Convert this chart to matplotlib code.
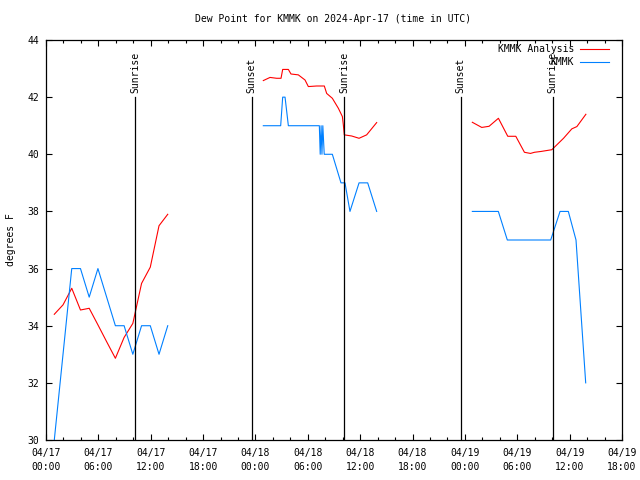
import numpy as np
import matplotlib
matplotlib.use("Agg")
import matplotlib.pyplot as plt

title = "Dew Point for KMMK on 2024-Apr-17 (time in UTC)"
ylabel = "degrees F"

# hours since 2024-04-17 00:00 UTC; NaN separates data gaps
analysis_hours = [0.95, 1.95, 2.95, 3.95, 4.95, 5.95, 6.95, 7.95, 8.95, 9.95, 10.95, 11.95, 12.95, 13.95,
                  np.nan,
                  24.90, 25.67, 26.43, 26.93, 27.12, 27.77, 28.07, 28.91, 29.68, 30.06, 31.01, 31.89,
                  32.16, 32.81, 33.50, 33.96, 34.07, 34.18, 35.03, 35.87, 36.74, 37.89,
                  np.nan,
                  48.85, 49.93, 50.77, 51.84, 52.91, 53.83, 54.82, 55.51, 55.97, 56.74, 57.96,
                  59.30, 60.25, 60.83, 61.86]
analysis_dewpt = [34.40, 34.73, 35.31, 34.55, 34.61, 34.03, 33.44, 32.86, 33.59, 34.08, 35.48, 36.05, 37.50, 37.90,
                  np.nan,
                  42.58, 42.69, 42.66, 42.66, 42.97, 42.97, 42.81, 42.78, 42.60, 42.37, 42.39, 42.39,
                  42.13, 41.96, 41.61, 41.32, 41.03, 40.68, 40.64, 40.56, 40.68, 41.11,
                  np.nan,
                  41.12, 40.94, 40.98, 41.26, 40.63, 40.63, 40.07, 40.03, 40.07, 40.10, 40.16,
                  40.56, 40.89, 40.97, 41.40]

obs_hours = [0.95, 1.95, 2.95, 3.95, 4.95, 5.95, 6.95, 7.95, 8.95, 9.95, 10.95, 11.95, 12.95, 13.95,
             np.nan,
             24.90, 26.89, 27.12, 27.39, 27.77, 31.32, 31.42, 31.52, 31.62, 31.72, 31.88, 32.81,
             33.80, 34.26, 34.83, 35.87, 36.86, 37.89,
             np.nan,
             48.85, 51.83, 52.86, 57.83, 58.90, 59.85, 60.73, 61.84]
obs_dewpt = [30, 33, 36, 36, 35, 36, 35, 34, 34, 33, 34, 34, 33, 34,
             np.nan,
             41, 41, 42, 42, 41, 41, 40, 41, 40, 41, 40, 40,
             39, 39, 38, 39, 39, 38,
             np.nan,
             38, 38, 37, 37, 38, 38, 37, 32]

sunrise_hours = [10.23, 34.20, 58.05]
sunset_hours = [23.57, 47.50]

xtick_hours = [0, 6, 12, 18, 24, 30, 36, 42, 48, 54, 60, 66]
xtick_labels = ["04/17\n00:00", "04/17\n06:00", "04/17\n12:00", "04/17\n18:00",
                "04/18\n00:00", "04/18\n06:00", "04/18\n12:00", "04/18\n18:00",
                "04/19\n00:00", "04/19\n06:00", "04/19\n12:00", "04/19\n18:00"]
ytick_values = [30, 32, 34, 36, 38, 40, 42, 44]

plt.rcParams["font.family"] = ["DejaVu Sans Mono", "DejaVu Sans"]
plt.rcParams["font.size"] = 7

fig = plt.figure(figsize=(6.4, 4.8), dpi=100)
ax = fig.add_axes([46 / 640, 1 - 440 / 480, 576 / 640, 400 / 480])

ax.plot(analysis_hours, analysis_dewpt, color="#ff0000", lw=0.8, label="KMMK Analysis")
ax.plot(obs_hours, obs_dewpt, color="#0080ff", lw=0.8, label="KMMK")

for h in sunrise_hours:
    ax.plot([h, h], [30, 42.0], color="black", lw=0.9)
    ax.text(h, 42.15, "Sunrise", rotation=90, ha="center", va="bottom", fontsize=7)
for h in sunset_hours:
    ax.plot([h, h], [30, 42.0], color="black", lw=0.9)
    ax.text(h, 42.15, "Sunset", rotation=90, ha="center", va="bottom", fontsize=7)

ax.set_xlim(0, 66)
ax.set_ylim(30, 44)
ax.set_xticks(xtick_hours)
ax.set_xticklabels(xtick_labels, linespacing=1.5)
ax.set_xticks(np.arange(0, 67, 2), minor=True)
ax.set_yticks(ytick_values)
ax.set_yticklabels([str(v) for v in ytick_values])

ax.tick_params(axis="both", which="both", direction="in", top=True, right=True, colors="black")
ax.tick_params(axis="both", which="major", length=4.5, width=0.8)
ax.tick_params(axis="both", which="minor", length=2.5, width=0.8)
ax.tick_params(axis="x", which="major", pad=6)
ax.tick_params(axis="y", which="major", pad=5)
for s in ax.spines.values():
    s.set_linewidth(0.9)

ax.set_ylabel(ylabel, labelpad=8)
fig.text(333 / 640, 1 - 19 / 480, title, ha="center", va="center", fontsize=7)

ax.legend(loc="upper right", bbox_to_anchor=(0.977, 0.99), frameon=False, markerfirst=False,
          handlelength=2.95, handletextpad=0.6, labelspacing=0.3, borderaxespad=0, borderpad=0,
          fontsize=7)

fig.savefig("out.png", dpi=100)
